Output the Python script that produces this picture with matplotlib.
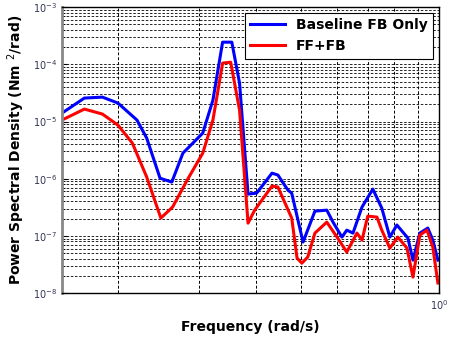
import matplotlib.pyplot as plt
from matplotlib.ticker import LogLocator, NullFormatter, FixedLocator

# frequency (rad/s) and PSD (Nm^2/rad)
freq_fb = [0.151, 0.169, 0.185, 0.200, 0.220, 0.231, 0.247, 0.262, 0.277, 0.306,
           0.322, 0.338, 0.354, 0.368, 0.384, 0.401, 0.433, 0.446, 0.469, 0.478,
           0.506, 0.537, 0.570, 0.588, 0.615, 0.630, 0.650, 0.680, 0.718, 0.751,
           0.782, 0.810, 0.856, 0.878, 0.909, 0.946, 0.970, 0.995]
psd_fb = [1.40e-5, 2.57e-5, 2.67e-5, 2.10e-5, 1.06e-5, 5.13e-6, 1.02e-6, 8.73e-7, 2.80e-6, 6.27e-6,
          2.37e-5, 2.44e-4, 2.44e-4, 4.69e-5, 5.38e-7, 5.60e-7, 1.25e-6, 1.16e-6, 6.32e-7, 5.60e-7,
          7.80e-8, 2.71e-7, 2.82e-7, 1.74e-7, 9.52e-8, 1.26e-7, 1.12e-7, 3.19e-7, 6.58e-7, 3.06e-7,
          9.52e-8, 1.55e-7, 9.15e-8, 3.77e-8, 1.12e-7, 1.37e-7, 8.45e-8, 3.77e-8]

freq_ff = [0.151, 0.169, 0.185, 0.200, 0.215, 0.231, 0.248, 0.263, 0.283, 0.306,
           0.322, 0.338, 0.352, 0.368, 0.384, 0.397, 0.433, 0.446, 0.478, 0.491,
           0.503, 0.518, 0.537, 0.570, 0.600, 0.630, 0.663, 0.680, 0.700, 0.733,
           0.751, 0.782, 0.814, 0.852, 0.878, 0.909, 0.942, 0.970, 0.995]
psd_ff = [1.06e-5, 1.65e-5, 1.35e-5, 8.65e-6, 4.19e-6, 1.07e-6, 2.05e-7, 3.19e-7, 9.45e-7, 2.80e-6,
          1.06e-5, 1.05e-4, 1.09e-4, 1.58e-5, 1.67e-7, 2.82e-7, 7.43e-7, 7.14e-7, 2.05e-7, 4.09e-8,
          3.34e-8, 4.26e-8, 1.12e-7, 1.74e-7, 9.52e-8, 5.21e-8, 1.12e-7, 8.45e-8, 2.22e-7, 2.13e-7,
          1.26e-7, 6.12e-8, 9.52e-8, 6.12e-8, 1.90e-8, 1.03e-7, 1.26e-7, 6.37e-8, 1.50e-8]

x_minor = [0.2, 0.3, 0.4, 0.5, 0.6, 0.7, 0.8, 0.9]

fig = plt.figure(figsize=(4.52, 3.4), dpi=100)
ax = fig.add_axes([0.137, 0.138, 0.834, 0.841])

ax.loglog(freq_fb, psd_fb, color="#0000ff", lw=2.2, label="Baseline FB Only")
ax.loglog(freq_ff, psd_ff, color="#ff0000", lw=2.2, label="FF+FB")

ax.set_xlim(0.151, 1.0)
ax.set_ylim(1e-8, 1e-3)

ax.yaxis.set_major_locator(LogLocator(base=10, numticks=10))
ax.yaxis.set_minor_locator(LogLocator(base=10, subs=range(2, 10), numticks=10))
ax.yaxis.set_minor_formatter(NullFormatter())
ax.xaxis.set_major_locator(FixedLocator([1.0]))
ax.xaxis.set_minor_locator(FixedLocator(x_minor))
ax.xaxis.set_minor_formatter(NullFormatter())

ax.tick_params(which="both", direction="in", labelsize=7, labelcolor="#333355")
ax.tick_params(which="minor", length=2)
ax.grid(True, which="both", ls=(0, (3, 2)), color="black", lw=0.6)
ax.xaxis.grid(True, which="minor", ls=(0, (3, 2)), color="black", lw=0.7)

for s in ax.spines.values():
    s.set_linewidth(1.0)
ax.spines["left"].set_color("#888888")
ax.spines["left"].set_linewidth(2)

ax.set_xlabel("Frequency (rad/s)", fontsize=10, fontweight="bold", labelpad=6)
ax.set_ylabel("Power Spectral Density (Nm $^{2}$/rad)", fontsize=10, fontweight="bold")

leg = ax.legend(loc="upper right", prop={"weight": "bold", "size": 10},
                fancybox=False, framealpha=1, edgecolor="black", borderaxespad=0.4,
                handlelength=2.5)
leg.get_frame().set_linewidth(0.8)

fig.savefig("out.png", dpi=100)
